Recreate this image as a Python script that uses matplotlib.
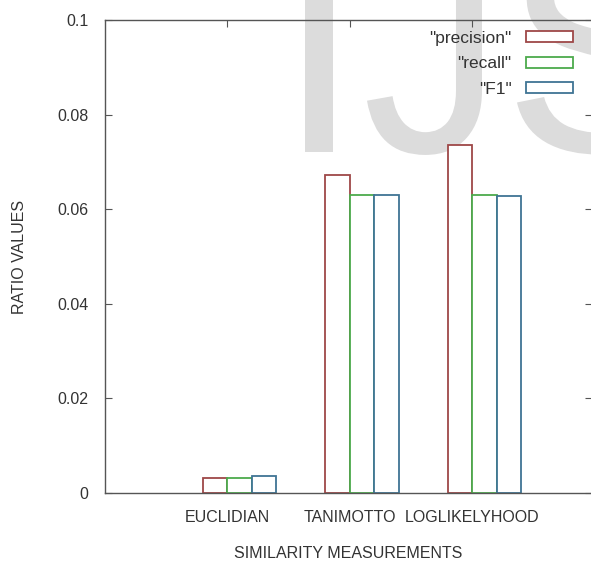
import matplotlib.pyplot as plt
import numpy as np
from matplotlib.textpath import TextPath
from matplotlib.font_manager import FontProperties
from matplotlib.patches import PathPatch
from matplotlib.transforms import Affine2D

# values
categories = ['EUCLIDIAN', 'TANIMOTTO', 'LOGLIKELYHOOD']
precision = [0.0032, 0.0672, 0.0736]
recall = [0.0032, 0.0630, 0.0630]
f1 = [0.0036, 0.0630, 0.0627]
series_names = ['"precision"', '"recall"', '"F1"']
colors = ['#9e4848', '#4caa4c', '#3f7494']
yticks = [0, 0.02, 0.04, 0.06, 0.08, 0.1]
ytick_labels = ['0', '0.02', '0.04', '0.06', '0.08', '0.1']

plt.rcParams['font.family'] = ['Liberation Sans', 'DejaVu Sans']

fig = plt.figure(figsize=(5.91, 5.65), dpi=100)

# light grey watermark letters, sitting behind the chart
fp = FontProperties(family='Liberation Sans')
ext_i = TextPath((0, 0), 'I', size=1, prop=fp).get_extents()
s = 28 / ext_i.width
for ch, left, width in [('I', 305, 28), ('J', 367, 115), ('S', 517, None)]:
    p = TextPath((0, 0), ch, size=1, prop=fp)
    e = p.get_extents()
    sx = s if width is None else width / e.width
    tr = Affine2D().translate(-e.x0, 0).scale(sx, s).translate(left, 565 - 152)
    fig.patches.append(PathPatch(p, transform=tr, facecolor='#dcdcdc',
                                 edgecolor='none', zorder=-5))

ax = fig.add_axes([105 / 591, 72 / 565, 487 / 591, 473 / 565])
ax.patch.set_alpha(0)

x = np.arange(len(categories))
w = 0.2
for i, (vals, name, c) in enumerate(zip([precision, recall, f1], series_names, colors)):
    ax.bar(x - w + i * w, vals, width=w, align='edge', facecolor='white',
           edgecolor=c, linewidth=1.3, label=name, zorder=2)

ax.set_xlim(-1, 2.98)
ax.set_ylim(0, 0.1)
ax.set_xticks(x)
ax.set_xticklabels(categories, fontsize=11.5, color='#333333')
ax.set_yticks(yticks)
ax.set_yticklabels(ytick_labels, fontsize=11.5, color='#333333')
ax.tick_params(direction='in', length=5, width=0.8, color='#555555',
               top=True, right=True, pad=12)
for sp in ax.spines.values():
    sp.set_color('#555555')
    sp.set_linewidth(1.0)

ax.set_xlabel('SIMILARITY MEASUREMENTS', fontsize=11.5, color='#333333', labelpad=15)
ax.set_ylabel('RATIO VALUES', fontsize=11.5, color='#333333', labelpad=22)

leg = ax.legend(loc='upper right', bbox_to_anchor=(0.961, 0.977), frameon=False,
                markerfirst=False, fontsize=12.5, handlelength=2.7, handleheight=0.6,
                handletextpad=0.85, labelspacing=0.6, borderpad=0, borderaxespad=0)
for t in leg.get_texts():
    t.set_color('#333333')

fig.savefig('out.png', dpi=100)
